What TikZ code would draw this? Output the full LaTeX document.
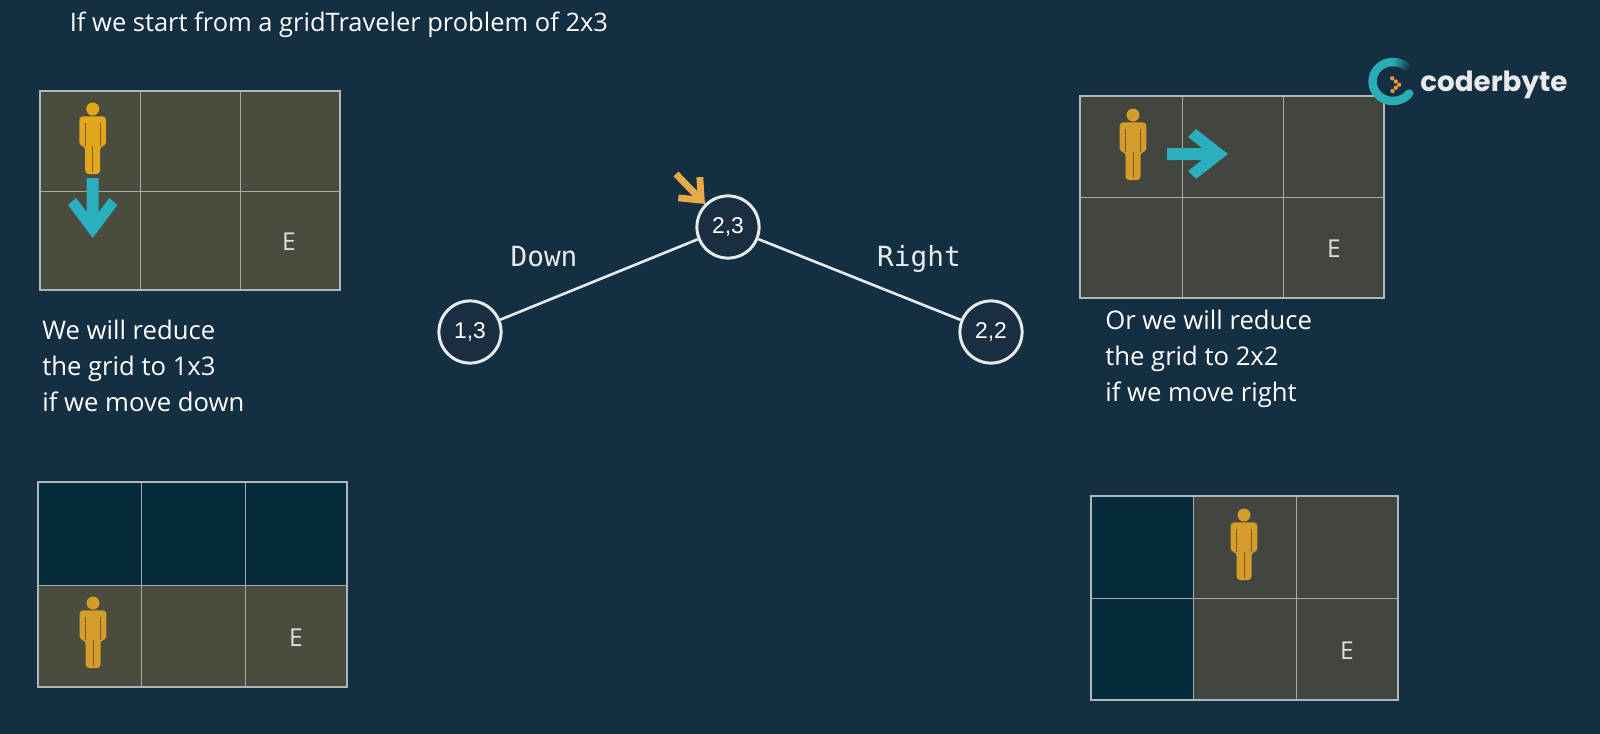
\documentclass[tikz,border=0pt]{standalone}
\usepackage{fontspec}
\usetikzlibrary{arrows.meta}
\newfontfamily\noteFont{Open Sans}
\newfontfamily\monoFont{DejaVu Sans Mono}
\newfontfamily\logoFont{Poppins}
\newfontfamily\labelFont{Liberation Sans}
\definecolor{bgColor}{HTML}{142E42}
\definecolor{cellWarm}{HTML}{4A4C3D}
\definecolor{cellCool}{HTML}{43463E}
\definecolor{cellDark}{HTML}{062B3B}
\definecolor{gridEdge}{HTML}{AEB7BA}
\definecolor{gridLine}{HTML}{A4ABAA}
\definecolor{personBright}{HTML}{E3A71C}
\definecolor{personDull}{HTML}{D49D2B}
\definecolor{personSlit}{HTML}{7A5C20}
\definecolor{arrowTeal}{HTML}{2AAFBE}
\definecolor{pointerOrange}{HTML}{E6AB48}
\definecolor{logoTeal}{HTML}{2AADB5}
\definecolor{logoOrange}{HTML}{E39A3C}
\definecolor{nodeFill}{HTML}{1A2E42}
\definecolor{lineWhite}{HTML}{E6EBEE}
\begin{document}
\begin{tikzpicture}
[x=0.02cm,y=-0.02cm,%
  stateNode/.style={shape=circle,draw=lineWhite,fill=nodeFill,line width=1.7pt,minimum size=35.4pt,inner sep=0pt,text=white,font=\labelFont\fontsize{13}{15}\selectfont},%
  lineDecorate/.style={-,draw=lineWhite,line width=1.5pt},%
  pointerLine/.style={draw=pointerOrange,line width=3.9pt,-{Straight Barb[length=10pt,width=17pt]}},%
  moveLabel/.style={anchor=base,text=lineWhite,font=\monoFont\fontsize{15.8}{18}\selectfont},%
  noteText/.style={anchor=north west,align=left,inner sep=0pt,text=white,font=\noteFont\fontsize{14.6}{20.5}\selectfont},%
  endLabel/.style={text=lineWhite!90!gray,font=\noteFont\fontsize{14}{16}\selectfont},%
  moveArrow/.style={fill=arrowTeal},%
  personIcon/.pic={
    \fill[pic actions] (0,0) circle (6.5);
    \path[pic actions,rounded corners=2pt] (-13.3,37) -- (-13.3,7.3) -- (13.3,7.3) -- (13.3,37) -- (7.5,37) -- (7.5,65) -- (-7.5,65) -- (-7.5,37) -- cycle;
    \draw[personSlit,line width=0.45pt] (-7.5,14) -- (-7.5,37) (7.5,14) -- (7.5,37) (0,37) -- (0,63);
  }]
\fill[bgColor] (0,0) rectangle (1600,734);
%% grids
\foreach \xa/\xb/\xc/\xd/\ya/\yb/\yc/\cellColor in {
  40/140/240/340/91/191/290/cellWarm, 1080/1182/1283/1384/96/197/298/cellCool,
  38/141/245/347/482/585/687/cellWarm, 1091/1193/1296/1398/496/598/700/cellCool}
{
  \fill[\cellColor] (\xa,\ya) rectangle (\xd,\yc);
}
%% reduced cells
\fill[cellDark] (38,482) rectangle (347,585);
\fill[cellDark] (1091,496) rectangle (1193,700);
\foreach \xa/\xb/\xc/\xd/\ya/\yb/\yc in {
  40/140/240/340/91/191/290, 1080/1182/1283/1384/96/197/298,
  38/141/245/347/482/585/687, 1091/1193/1296/1398/496/598/700}
{
  \draw[gridLine,line width=0.55pt] (\xb,\ya) -- (\xb,\yc) (\xc,\ya) -- (\xc,\yc) (\xa,\yb) -- (\xd,\yb);
  \draw[gridEdge,line width=1.6pt] (\xa,\ya) rectangle (\xd,\yc);
}
%% travelers
\pic[fill=personBright] at (92.7,109) {personIcon};
\pic[fill=personDull] at (1133,115) {personIcon};
\pic[fill=personDull] at (93,603) {personIcon};
\pic[fill=personDull] at (1244,515) {personIcon};
%% move arrows
\fill[moveArrow] (86.7,178) -- (98.7,178) -- (98.7,212) -- (109.3,198) -- (117.3,205) -- (92.7,238) -- (68.1,205) -- (76,198) -- (86.7,212) -- cycle;
\fill[moveArrow] (1167,148) -- (1202,148) -- (1188,137) -- (1196,129) -- (1228,154) -- (1196,179) -- (1188,171) -- (1202,160) -- (1167,160) -- cycle;
%% end cells
\foreach \nodename/\x/\y in {endA/289/242, endB/1334/249, endC/296/638, endD/1347/651}
{
  \node[endLabel] (\nodename) at (\x,\y) {E};
}
%% nodes and edges
\coordinate (pointerStart) at (676,174);
\node[stateNode] (n23) at (728,227) {2,3};
\node[stateNode] (n13) at (470,332) {1,3};
\node[stateNode] (n22) at (991,332) {2,2};
\draw[pointerLine] (pointerStart) -- (n23.north west);
\path
(n23) edge[lineDecorate] (n13)
(n23) edge[lineDecorate] (n22);
\node[moveLabel] (down) at (544,266) {Down};
\node[moveLabel] (right) at (919,266) {Right};
%% texts
\node[noteText,anchor=base west,font=\noteFont\fontsize{14.5}{20.5}\selectfont] (title) at (69.5,31) {If we start from a gridTraveler problem of 2x3};
\node[noteText] (noteDown) at (42,320) {We will reduce\\the grid to 1x3\\if we move down};
\node[noteText] (noteRight) at (1105,310) {Or we will reduce\\the grid to 2x2\\if we move right};
%% logo
\begin{scope}[shift={(1393,81.5)},x=1cm,y=1cm]
  \draw[logoTeal,line width=4.8pt,line cap=round] (90:0.41cm and 0.39cm) arc[start angle=90,end angle=322,x radius=0.41cm,y radius=0.39cm];
  \foreach \step in {0,...,9}
  {
    \pgfmathsetmacro{\fade}{100-9*\step}
    \pgfmathsetmacro{\angA}{91-4.6*\step}
    \pgfmathsetmacro{\angB}{85-4.6*\step}
    \draw[logoTeal!\fade!bgColor,line width=4.8pt] (\angA:0.41cm and 0.39cm) arc[start angle=\angA,end angle=\angB,x radius=0.41cm,y radius=0.39cm];
  }
  \foreach \x/\y in {-0.8/3.2,2.8/0,6.1/-3.2,2.8/-6.2,-0.5/-9.5}
  {
    \fill[logoOrange] (\x*0.02,\y*0.02) circle (0.044);
  }
\end{scope}
\node[anchor=base west,inner sep=0pt,text=white!90!bgColor,font=\logoFont\bfseries\fontsize{15.8}{18}\selectfont] (logoText) at (1420,91.7) {coderbyte};
\end{tikzpicture}
\end{document}
